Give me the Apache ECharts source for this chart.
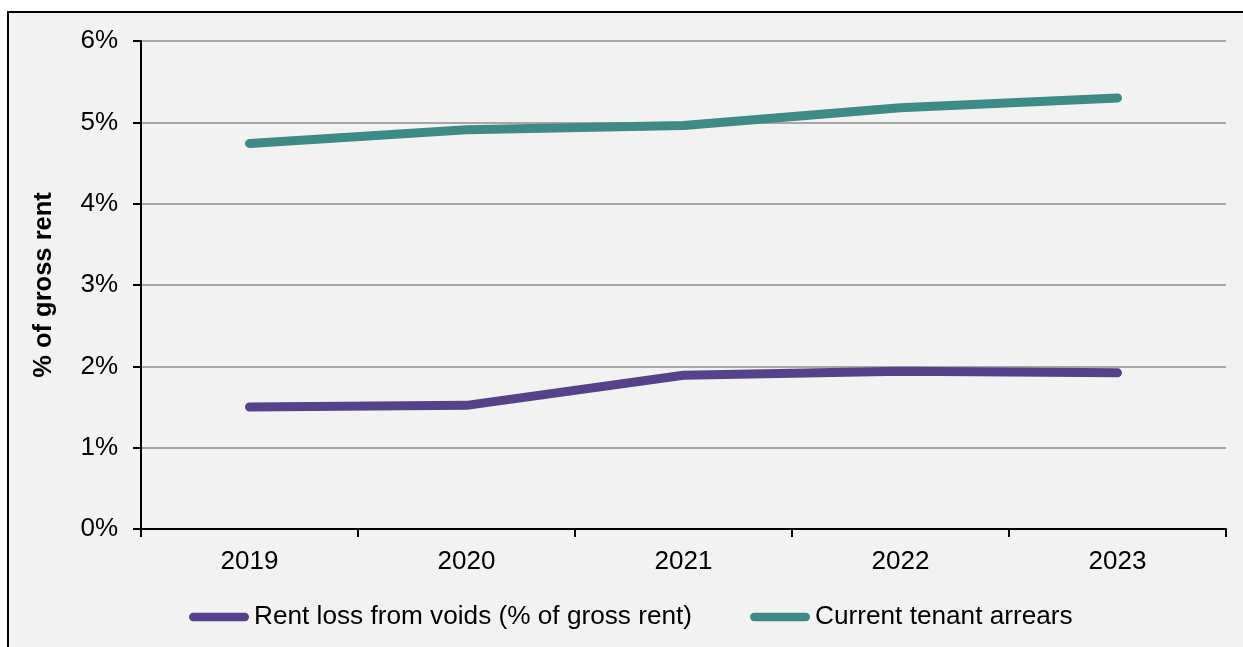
<!DOCTYPE html>
<html>
<head>
<meta charset="utf-8">
<script src="https://cdn.jsdelivr.net/npm/echarts@6/dist/echarts.min.js"></script>
<style>
  html, body { margin: 0; padding: 0; background: #ffffff; overflow: hidden; }
  #frame {
    position: absolute; left: 7px; top: 11px;
    width: 1300px; height: 700px;
    background: #f2f2f2; border: 2px solid #000;
  }
  #chart { position: absolute; left: 0; top: 0; width: 1243px; height: 647px; }
</style>
</head>
<body>
<div id="frame"></div>
<div id="chart"></div>
<script>
// Years on the category axis
const years = ['2019', '2020', '2021', '2022', '2023'];
// Rent loss from voids, % of gross rent
const voidLoss = [1.50, 1.52, 1.89, 1.94, 1.92];
// Current tenant arrears, % of gross rent
const arrears = [4.74, 4.91, 4.96, 5.18, 5.30];

const FONT = 'Liberation Sans, Arial, sans-serif';
const PURPLE = '#55428a';
const TEAL = '#3d8a87';

// Rounded bar used as legend key
const keyIcon = 'path://M4,0 H54 A4,4 0 0 1 54,8 H4 A4,4 0 0 1 4,0 Z';

const chart = echarts.init(document.getElementById('chart'), null, { renderer: 'canvas' });
chart.setOption({
  backgroundColor: 'transparent',
  animation: false,
  grid: { left: 141, right: 17, top: 41, bottom: 118, containLabel: false },
  legend: {
    left: 184, top: 599,
    itemWidth: 60, itemHeight: 9, itemGap: 58,
    icon: keyIcon,
    textStyle: { fontFamily: FONT, fontSize: 26.2, color: '#000' },
    data: [
      { name: 'Rent loss from voids (% of gross rent)', itemStyle: { color: PURPLE } },
      { name: 'Current tenant arrears', itemStyle: { color: TEAL } }
    ]
  },
  xAxis: {
    type: 'category',
    data: years,
    boundaryGap: true,
    axisLine: { lineStyle: { color: '#000', width: 2 } },
    axisTick: { show: true, length: 8, lineStyle: { color: '#000', width: 2 } },
    axisLabel: { fontFamily: FONT, fontSize: 26, color: '#000', margin: 20 }
  },
  yAxis: {
    type: 'value',
    min: 0, max: 6, interval: 1,
    name: '% of gross rent',
    nameLocation: 'middle',
    nameGap: 84,
    nameTextStyle: { fontFamily: FONT, fontSize: 25.5, fontWeight: 'bold', color: '#000' },
    axisLine: { show: true, lineStyle: { color: '#000', width: 2 } },
    axisTick: { show: true, length: 8, lineStyle: { color: '#000', width: 2 } },
    axisLabel: { fontFamily: FONT, fontSize: 26, color: '#000', margin: 23, formatter: '{value}%' },
    splitLine: { show: true, lineStyle: { color: '#a6a6a6', width: 2 } }
  },
  series: [
    {
      name: 'Rent loss from voids (% of gross rent)',
      type: 'line',
      data: voidLoss,
      showSymbol: false,
      symbol: 'none',
      itemStyle: { color: PURPLE },
      lineStyle: { color: PURPLE, width: 9, cap: 'round', join: 'round' }
    },
    {
      name: 'Current tenant arrears',
      type: 'line',
      data: arrears,
      showSymbol: false,
      symbol: 'none',
      itemStyle: { color: TEAL },
      lineStyle: { color: TEAL, width: 9, cap: 'round', join: 'round' }
    }
  ]
});
</script>
</body>
</html>
